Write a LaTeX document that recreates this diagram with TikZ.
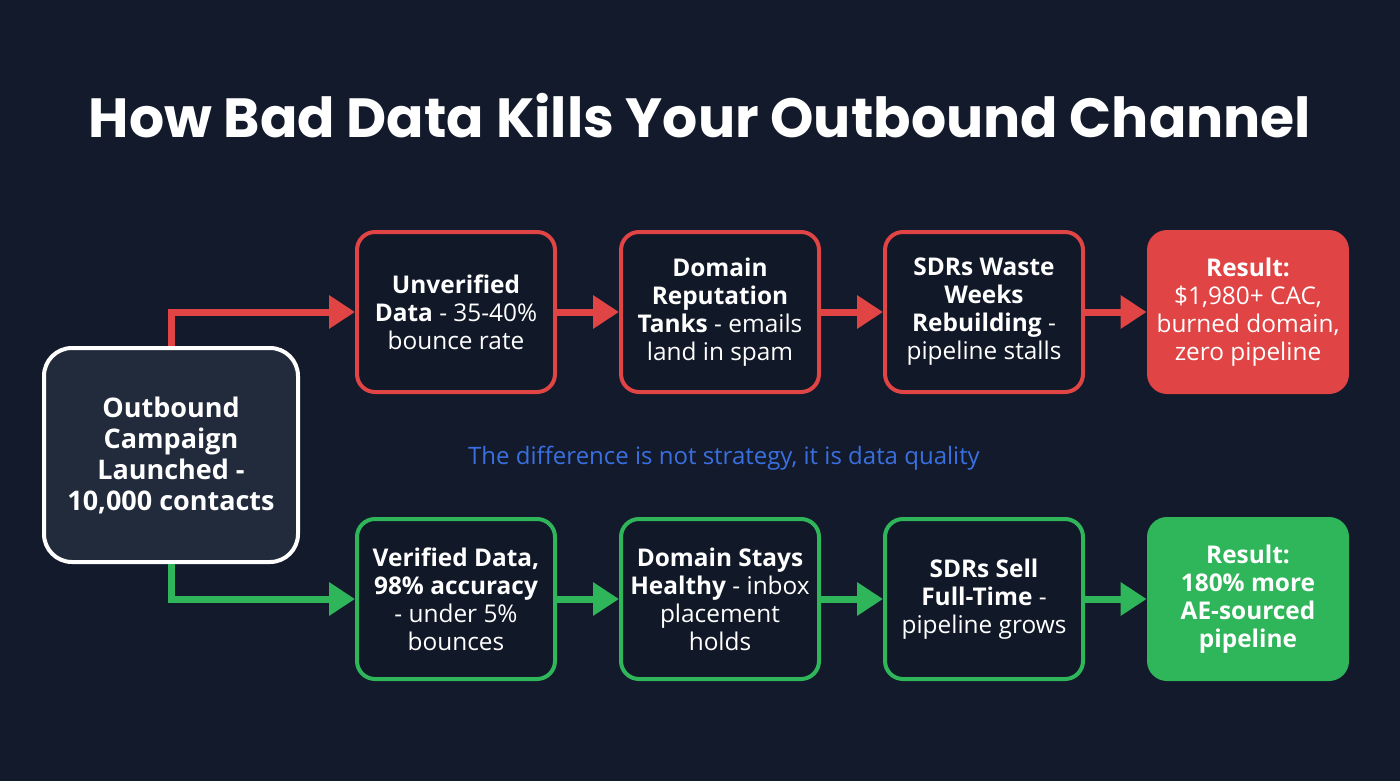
\documentclass[tikz,border=0pt]{standalone}
\usepackage{fontspec}
\setmainfont{Open Sans}
\newfontfamily\titlefont{Poppins}
\usetikzlibrary{arrows.meta}
\definecolor{bg}{HTML}{121A2B}
\definecolor{boxfill}{HTML}{111827}
\definecolor{leftfill}{HTML}{222B3C}
\definecolor{rd}{HTML}{E04444}
\definecolor{gr}{HTML}{2FB65A}
\definecolor{bl}{HTML}{3A6FE0}
\tikzset{
  x=0.5pt, y=-0.5pt,
  stepbox/.style={draw=#1, line width=2pt, fill=boxfill, rounded corners=9pt,
    minimum width=99pt, minimum height=80pt, align=center, text=white,
    font=\fontsize{12.2}{14}\selectfont, inner sep=0pt},
  resultbox/.style={fill=#1, rounded corners=10pt,
    minimum width=101pt, minimum height=82pt, align=center, text=white,
    font=\fontsize{12.2}{14}\selectfont, inner sep=0pt},
  startbox/.style={draw=white, line width=2pt, fill=leftfill, rounded corners=14pt,
    minimum width=127pt, minimum height=107pt, align=center, text=white,
    font=\bfseries\fontsize{13.5}{15.5}\selectfont, inner sep=0pt},
  flow/.style={draw=#1, line width=3.5pt, -{Triangle[length=13pt,width=16pt]}},
}
\begin{document}
\begin{tikzpicture}
\fill[bg] (0,0) rectangle (1400,781);
\useasboundingbox (0,0) rectangle (1400,781);

\node[text=white, font=\titlefont\bfseries\fontsize{27.6}{32}\selectfont] (title) at (700,116) {How Bad Data Kills Your Outbound Channel};

\node[startbox] (start) at (171,455) {Outbound\\Campaign\\Launched -\\10,000 contacts};

\node[stepbox=rd] (r1) at (456,312) {\textbf{Unverified}\\\textbf{Data} - 35-40\%\\bounce rate};
\node[stepbox=rd] (r2) at (720,312) {\textbf{Domain}\\\textbf{Reputation}\\\textbf{Tanks} - emails\\land in spam};
\node[stepbox=rd] (r3) at (984,312) {\textbf{SDRs Waste}\\\textbf{Weeks}\\\textbf{Rebuilding} -\\pipeline stalls};
\node[resultbox=rd] (r4) at (1248,312) {\textbf{Result:}\\\$1,980+ CAC,\\burned domain,\\zero pipeline};

\node[stepbox=gr] (g1) at (456,599) {\textbf{Verified Data,}\\\textbf{98\% accuracy}\\- under 5\%\\bounces};
\node[stepbox=gr] (g2) at (720,599) {\textbf{Domain Stays}\\\textbf{Healthy} - inbox\\placement\\holds};
\node[stepbox=gr] (g3) at (984,599) {\textbf{SDRs Sell}\\\textbf{Full-Time} -\\pipeline grows};
\node[resultbox=gr, font=\bfseries\fontsize{12.2}{14}\selectfont] (g4) at (1248,599) {Result:\\180\% more\\AE-sourced\\pipeline};

\node[text=bl, font=\fontsize{12}{14}\selectfont] (note) at (724,458) {The difference is not strategy, it is data quality};

\draw[flow=rd] (start.north) |- (r1.west);
\draw[flow=rd] (r1) -- (r2);
\draw[flow=rd] (r2) -- (r3);
\draw[flow=rd] (r3) -- (r4);
\draw[flow=gr] (start.south) |- (g1.west);
\draw[flow=gr] (g1) -- (g2);
\draw[flow=gr] (g2) -- (g3);
\draw[flow=gr] (g3) -- (g4);
\end{tikzpicture}
\end{document}
